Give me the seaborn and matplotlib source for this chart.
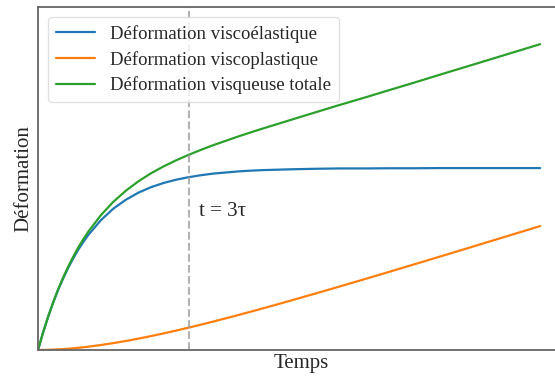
import numpy as np
import pandas as pd
import matplotlib
matplotlib.use("Agg")
import matplotlib.pyplot as plt
import seaborn as sns

# temps en unités de tau
temps = [0, 0.1, 0.2, 0.3, 0.4, 0.5, 0.6, 0.7, 0.8, 0.9, 1,
         1.25, 1.5, 1.75, 2, 2.25, 2.5, 2.75, 3, 3.25, 3.5, 3.75, 4,
         4.25, 4.5, 4.75, 5, 5.5, 6, 6.5, 7, 7.5, 8, 8.5, 9, 9.5, 10]
viscoelastique = [0, 0.095, 0.181, 0.259, 0.330, 0.393, 0.451, 0.503, 0.551,
                  0.593, 0.632, 0.713, 0.777, 0.826, 0.865, 0.895, 0.918,
                  0.936, 0.950, 0.961, 0.970, 0.976, 0.982, 0.986, 0.989,
                  0.991, 0.993, 0.996, 0.998, 0.998, 0.999, 0.999, 1.0, 1.0,
                  1.0, 1.0, 1.0]
viscoplastique = [0, 0.0002, 0.0008, 0.0018, 0.0032, 0.0049, 0.0069, 0.0093,
                  0.0120, 0.0149, 0.0181, 0.0273, 0.0378, 0.0496, 0.0625,
                  0.0764, 0.0912, 0.1067, 0.1229, 0.1397, 0.1570, 0.1748,
                  0.1930, 0.2115, 0.2304, 0.2496, 0.2690, 0.3084, 0.3485,
                  0.3891, 0.4301, 0.4715, 0.5131, 0.5549, 0.5969, 0.6390,
                  0.6811]
noms = ["Déformation viscoélastique", "Déformation viscoplastique",
        "Déformation visqueuse totale"]
t_marque = 3

totale = [a + b for a, b in zip(viscoelastique, viscoplastique)]

df = pd.concat([
    pd.DataFrame({"t": temps, "val": viscoelastique, "serie": noms[0]}),
    pd.DataFrame({"t": temps, "val": viscoplastique, "serie": noms[1]}),
    pd.DataFrame({"t": temps, "val": totale, "serie": noms[2]}),
])

sns.set_style("white")
plt.rcParams["font.family"] = ["Liberation Serif", "DejaVu Serif"]

fig = plt.figure(figsize=(5.55, 3.81), dpi=100)
ax = fig.add_axes([0.0685, 0.0814, 0.95, 0.9])

sns.lineplot(data=df, x="t", y="val", hue="serie", palette="tab10",
             linewidth=1.6, ax=ax)
ax.axvline(t_marque, color="0.6", linestyle="--", linewidth=1.5, alpha=0.75)
ax.text(t_marque + 0.2, 0.76, "t = 3τ", fontsize=15, va="center")

ax.set_xlim(0, 10.5)
ax.set_ylim(0, 1.885)
ax.set_xticks([])
ax.set_yticks([])
ax.set_xlabel("Temps", fontsize=15, labelpad=3)
ax.set_ylabel("Déformation", fontsize=15, labelpad=3)
for s in ax.spines.values():
    s.set_color("0.4")
    s.set_linewidth(1.3)

leg = ax.legend(loc="upper left", fontsize=13.5, frameon=True, title=None,
                borderaxespad=0.55, handlelength=2.1, labelspacing=0.42)
leg.get_frame().set_edgecolor("0.85")

fig.savefig("out.png", dpi=100)
